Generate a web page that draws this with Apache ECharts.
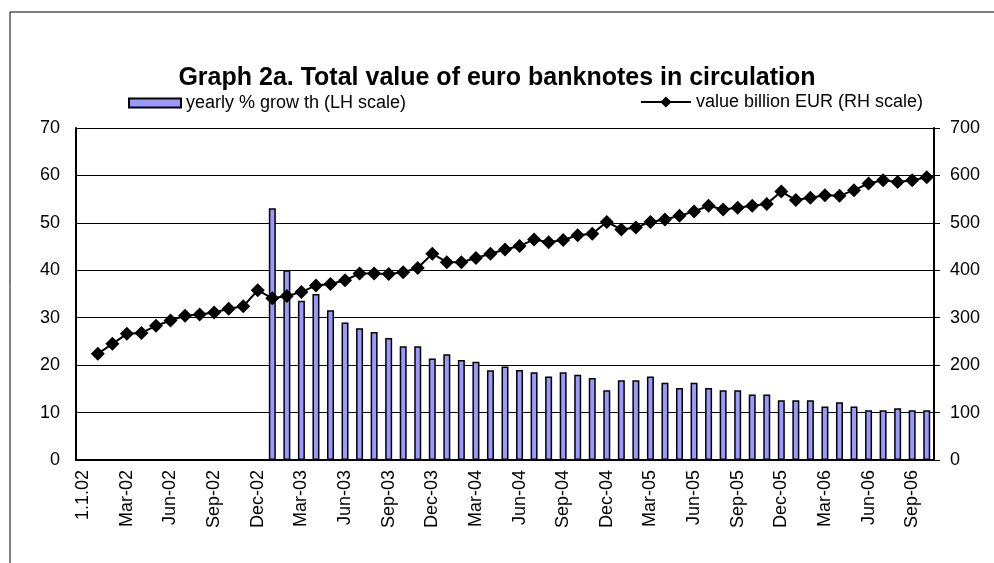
<!DOCTYPE html>
<html>
<head>
<meta charset="utf-8">
<script src="https://cdn.jsdelivr.net/npm/echarts@6/dist/echarts.min.js"></script>
<style>
  html, body { margin: 0; padding: 0; background: #fff; }
  #chart { width: 994px; height: 563px; }
</style>
</head>
<body>
<div id="chart"></div>
<script>
// categories: 1.1.02, then month ends Jan-02 .. Oct-06
const categories = [
  '1.1.02',
  'Jan-02', 'Feb-02', 'Mar-02', 'Apr-02', 'May-02', 'Jun-02', 'Jul-02', 'Aug-02', 'Sep-02', 'Oct-02', 'Nov-02', 'Dec-02',
  'Jan-03', 'Feb-03', 'Mar-03', 'Apr-03', 'May-03', 'Jun-03', 'Jul-03', 'Aug-03', 'Sep-03', 'Oct-03', 'Nov-03', 'Dec-03',
  'Jan-04', 'Feb-04', 'Mar-04', 'Apr-04', 'May-04', 'Jun-04', 'Jul-04', 'Aug-04', 'Sep-04', 'Oct-04', 'Nov-04', 'Dec-04',
  'Jan-05', 'Feb-05', 'Mar-05', 'Apr-05', 'May-05', 'Jun-05', 'Jul-05', 'Aug-05', 'Sep-05', 'Oct-05', 'Nov-05', 'Dec-05',
  'Jan-06', 'Feb-06', 'Mar-06', 'Apr-06', 'May-06', 'Jun-06', 'Jul-06', 'Aug-06', 'Sep-06', 'Oct-06'
];

// value billion EUR (RH scale)
const valueBillion = [
  null,
  224, 245, 266, 268, 283, 294, 304, 307, 311, 319, 324, 358,
  341, 346, 354, 368, 371, 379, 393, 393, 392, 396, 405, 435,
  417, 417, 426, 435, 444, 451, 465, 459, 464, 474, 477, 502,
  486, 490, 502, 507, 515, 524, 536, 528, 532, 536, 540, 566,
  548, 553, 558, 557, 569, 583, 590, 586, 590, 596
];

// yearly % growth (LH scale), first available Jan-03
const yearlyGrowth = [
  null,
  null, null, null, null, null, null, null, null, null, null, null, null,
  53.1, 40.0, 33.6, 35.0, 31.6, 29.0, 27.8, 27.0, 25.7, 24.0, 24.0, 21.4,
  22.3, 21.1, 20.7, 18.9, 19.7, 19.0, 18.5, 17.6, 18.5, 18.0, 17.3, 14.7,
  16.8, 16.8, 17.6, 16.3, 15.2, 16.3, 15.2, 14.7, 14.7, 13.8, 13.8, 12.6,
  12.6, 12.6, 11.3, 12.2, 11.3, 10.5, 10.5, 10.9, 10.5, 10.5
];

const FONT = '"Liberation Sans", Arial, sans-serif';
const barName = 'yearly % grow th (LH scale)';
const lineName = 'value billion EUR (RH scale)';

const myChart = echarts.init(document.getElementById('chart'), null, { renderer: 'canvas' });

const option = {
  animation: false,
  backgroundColor: '#fff',
  textStyle: { fontFamily: FONT, color: '#000' },
  title: {
    text: 'Graph 2a. Total value of euro banknotes in circulation',
    left: 'center',
    top: 61,
    textStyle: { fontFamily: FONT, fontSize: 25, fontWeight: 'bold', color: '#000' }
  },
  graphic: [
    {
      type: 'polyline',
      shape: { points: [[10, 563], [10, 12], [994, 12]] },
      style: { stroke: '#000', lineWidth: 1, fill: null }
    }
  ],
  legend: [
    {
      data: [{ name: barName, icon: 'rect' }],
      left: 123,
      top: 89,
      itemWidth: 52,
      itemHeight: 9,
      itemGap: 10,
      textStyle: { fontFamily: FONT, fontSize: 18, color: '#000' }
    },
    {
      data: [lineName],
      right: 66,
      top: 88,
      itemWidth: 50,
      itemHeight: 14,
      textStyle: { fontFamily: FONT, fontSize: 18, color: '#000' }
    }
  ],
  grid: { left: 76, right: 60, top: 128, bottom: 103 },
  xAxis: {
    type: 'category',
    data: categories,
    boundaryGap: true,
    axisLine: { lineStyle: { color: '#000', width: 2 } },
    axisTick: { show: false },
    axisLabel: {
      interval: 2,
      rotate: 90,
      margin: 10,
      fontFamily: FONT,
      fontSize: 18,
      color: '#000'
    }
  },
  yAxis: [
    {
      type: 'value',
      min: 0,
      max: 70,
      interval: 10,
      position: 'left',
      axisLine: { show: true, lineStyle: { color: '#000', width: 2 } },
      axisTick: { show: false },
      splitLine: { show: true, lineStyle: { color: '#000', width: 1 } },
      axisLabel: { margin: 16, fontFamily: FONT, fontSize: 18, color: '#000' }
    },
    {
      type: 'value',
      min: 0,
      max: 700,
      interval: 100,
      position: 'right',
      axisLine: { show: true, lineStyle: { color: '#000', width: 2 } },
      axisTick: { show: true, inside: false, length: 6, lineStyle: { color: '#000', width: 1 } },
      splitLine: { show: false },
      axisLabel: { margin: 16, fontFamily: FONT, fontSize: 18, color: '#000' }
    }
  ],
  series: [
    {
      name: barName,
      type: 'bar',
      yAxisIndex: 0,
      data: yearlyGrowth,
      barWidth: 7,
      itemStyle: { color: '#9999ff', borderColor: '#000', borderWidth: 1.5 }
    },
    {
      name: lineName,
      type: 'line',
      yAxisIndex: 1,
      data: valueBillion,
      symbol: 'diamond',
      symbolSize: 14,
      showAllSymbol: true,
      lineStyle: { color: '#000', width: 2 },
      itemStyle: { color: '#000' },
      z: 5
    }
  ]
};

myChart.setOption(option);
</script>
</body>
</html>
